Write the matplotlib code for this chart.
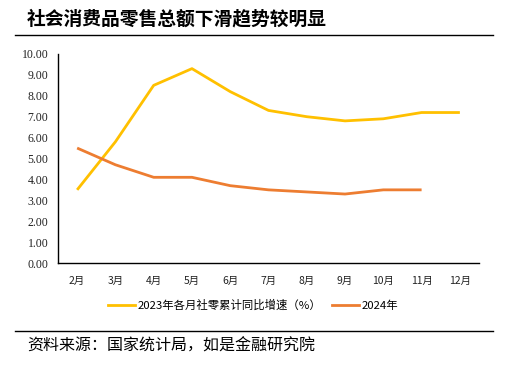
import matplotlib
matplotlib.use("Agg")
import matplotlib.pyplot as plt
from matplotlib.lines import Line2D

plt.rcParams['font.family'] = ['Noto Sans CJK SC', 'DejaVu Sans']

months = ["2月", "3月", "4月", "5月", "6月", "7月", "8月", "9月", "10月", "11月", "12月"]
s2023 = [3.5, 5.8, 8.5, 9.3, 8.2, 7.3, 7.0, 6.8, 6.9, 7.2, 7.2]
s2024 = [5.5, 4.7, 4.1, 4.1, 3.7, 3.5, 3.4, 3.3, 3.5, 3.5]
label2023 = "2023年各月社零累计同比增速（%）"
label2024 = "2024年"
title = "社会消费品零售总额下滑趋势较明显"
source = "资料来源：国家统计局，如是金融研究院"
yticks = [0, 1, 2, 3, 4, 5, 6, 7, 8, 9, 10]

W, H = 520, 366
fig = plt.figure(figsize=(W / 100, H / 100), dpi=100)
ax = fig.add_axes([58 / W, 1 - 263 / H, (479 - 58) / W, (263 - 54) / H])

x23 = list(range(len(s2023)))
x24 = list(range(len(s2024)))
ax.plot(x23, s2023, color="#FFC000", lw=2.0, solid_capstyle="butt", label=label2023)
ax.plot(x24, s2024, color="#ED7D31", lw=2.0, solid_capstyle="butt", label=label2024)

ax.set_xlim(-0.5, len(months) - 0.5)
ax.set_ylim(0, 10)
ax.set_xticks(x23)
ax.set_xticklabels(months, fontsize=7.5)
ax.set_yticks(yticks)
ax.set_yticklabels([f"{v:.2f}" for v in yticks], fontsize=8.5, family=['Liberation Serif', 'DejaVu Sans'])
ax.tick_params(axis='both', length=0, pad=7, colors="#222222")
ax.tick_params(axis='x', pad=9)
for s in ["top", "right"]:
    ax.spines[s].set_visible(False)
for s in ["left", "bottom"]:
    ax.spines[s].set_color("black")
    ax.spines[s].set_linewidth(1.0)

handles = [Line2D([], [], color="#FFC000", lw=2.0), Line2D([], [], color="#ED7D31", lw=2.0)]
fig.legend(handles, [label2023, label2024], loc="center", bbox_to_anchor=(253 / W, 1 - 305 / H),
           ncol=2, frameon=False, fontsize=8.2, handlelength=2.4, handletextpad=0.2, columnspacing=0.9)

fig.text(27 / W, 1 - 19 / H, title, fontsize=13.5, fontweight="bold", va="center", ha="left")
fig.add_artist(Line2D([15 / W, 493 / W], [1 - 35 / H, 1 - 35 / H], color="black", lw=1.0, transform=fig.transFigure))
fig.add_artist(Line2D([15 / W, 493 / W], [1 - 331 / H, 1 - 331 / H], color="black", lw=1.0, transform=fig.transFigure))
fig.text(27 / W, 1 - 346 / H, source, fontsize=11.5, va="center", ha="left", style="italic")

fig.savefig("out.png", dpi=100)
